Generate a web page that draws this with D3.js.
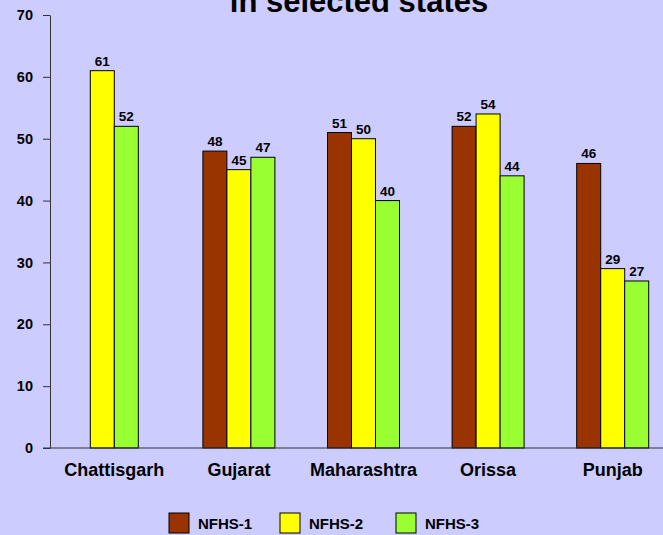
<!DOCTYPE html>
<html>
<head>
<meta charset="utf-8">
<script src="https://cdn.jsdelivr.net/npm/d3@7"></script>
<style>
  body { margin: 0; background: #ccccff; }
  svg { display: block; font-family: "Liberation Sans", Arial, sans-serif; font-weight: bold; }
</style>
</head>
<body>
<script>
const states = ["Chattisgarh", "Gujarat", "Maharashtra", "Orissa", "Punjab"];
const seriesNames = ["NFHS-1", "NFHS-2", "NFHS-3"];
const nfhs1 = [null, 48, 51, 52, 46];
const nfhs2 = [61, 45, 50, 54, 29];
const nfhs3 = [52, 47, 40, 44, 27];
const yTicks = [0, 10, 20, 30, 40, 50, 60, 70];
const colors = ["#993300", "#ffff00", "#99ff33"];

const width = 663, height = 535;
const svg = d3.select("body").append("svg").attr("width", width).attr("height", height);
svg.append("rect").attr("width", width).attr("height", height).attr("fill", "#ccccff");

// title (its first line is cut off at the top in the original)
svg.append("text")
  .attr("x", 359).attr("y", 12)
  .attr("text-anchor", "middle")
  .attr("font-size", 31)
  .attr("fill", "#000")
  .text("in selected states");

const x = d3.scaleBand().domain(states).range([52, 675]);
const y = d3.scaleLinear().domain([0, 70]).range([448, 15]);
const barW = 24;

const data = [nfhs1, nfhs2, nfhs3];

// one record per present bar; bars of a state are centred on its band
const bars = [];
states.forEach((s, i) => {
  const present = data.map((vals, si) => ({ s, si, v: vals[i] })).filter(d => d.v != null);
  const start = x(s) + x.bandwidth() / 2 - present.length * barW / 2;
  present.forEach((d, k) => { d.x0 = start + k * barW; bars.push(d); });
});

svg.append("g").selectAll("rect").data(bars).enter().append("rect")
  .attr("x", d => d.x0)
  .attr("y", d => y(d.v))
  .attr("width", barW)
  .attr("height", d => y(0) - y(d.v))
  .attr("fill", d => colors[d.si])
  .attr("stroke", "#000")
  .attr("stroke-width", 1);

svg.append("g").selectAll("text").data(bars).enter().append("text")
  .attr("x", d => d.x0 + barW / 2)
  .attr("y", d => y(d.v) - 5)
  .attr("text-anchor", "middle")
  .attr("font-size", 13.5)
  .text(d => d.v);

// y axis
const yAxis = svg.append("g").attr("transform", "translate(50,0)")
  .call(d3.axisLeft(y).tickValues(yTicks).tickSize(7).tickSizeOuter(0));
yAxis.select(".domain").attr("stroke", "#333");
yAxis.selectAll(".tick line").attr("stroke", "#333");
yAxis.selectAll(".tick text").attr("font-size", 14.5).attr("font-family", "Liberation Sans, Arial, sans-serif")
  .attr("font-weight", "bold").attr("fill", "#000").attr("x", -17);

// x axis line
svg.append("line").attr("x1", 43).attr("x2", width).attr("y1", y(0)).attr("y2", y(0))
  .attr("stroke", "#333");

// category labels
svg.selectAll(".cat").data(states).enter().append("text")
  .attr("x", d => x(d) + x.bandwidth() / 2)
  .attr("y", 476)
  .attr("text-anchor", "middle")
  .attr("font-size", 18)
  .text(d => d);

// legend
const legX = [169, 280, 396];
seriesNames.forEach((n, i) => {
  svg.append("rect").attr("x", legX[i]).attr("y", 513).attr("width", 20).attr("height", 20)
    .attr("fill", colors[i]).attr("stroke", "#000");
  svg.append("text").attr("x", legX[i] + 29).attr("y", 529).attr("font-size", 15).text(n);
});
</script>
</body>
</html>
